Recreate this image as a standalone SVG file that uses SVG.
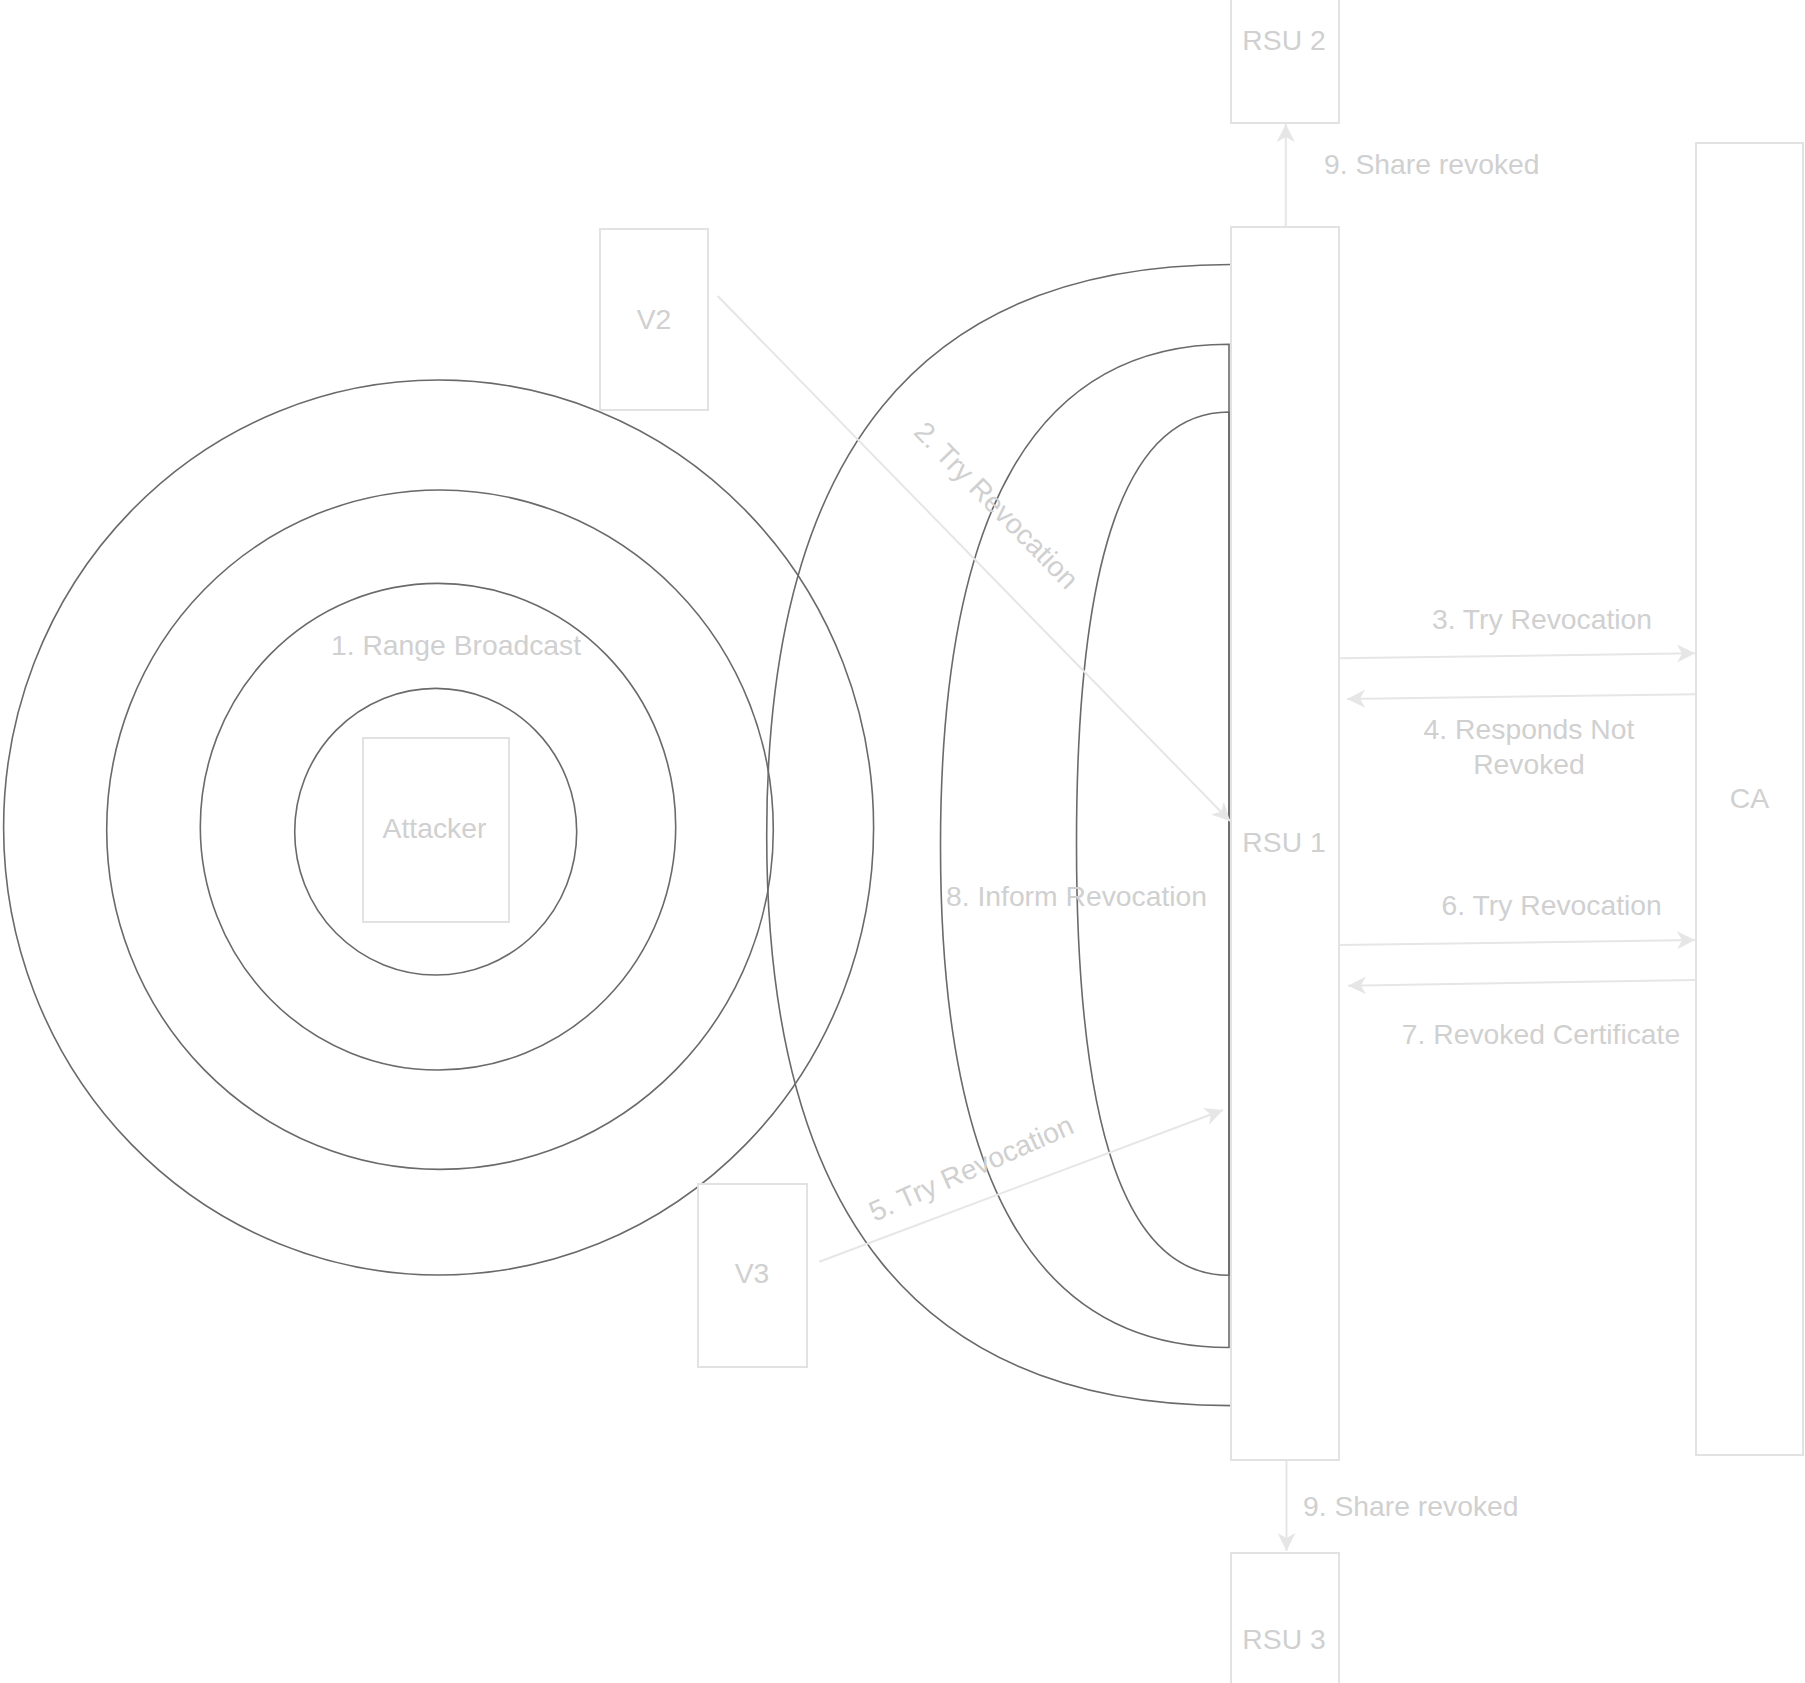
<svg xmlns="http://www.w3.org/2000/svg" width="1805" height="1683" viewBox="0 0 1805 1683">
  <style>
    .txt { font-family: "Liberation Sans", Arial, Helvetica, sans-serif; font-size: 28.3px; fill: #d0d0d0; }
    .mid { text-anchor: middle; }
    .box { fill: #ffffff; stroke: #e2e2e2; stroke-width: 2; }
    .ring { fill: none; stroke: #6a6a6a; stroke-width: 1.6; }
    .edge { fill: none; stroke: #e6e6e6; stroke-width: 2; marker-end: url(#arrow); }
  </style>
  <defs>
    <marker id="arrow" markerUnits="userSpaceOnUse" markerWidth="20" markerHeight="20" refX="18" refY="9" orient="auto">
      <path d="M0,0 L18,9 L0,18 L5,9 Z" fill="#e6e6e6"/>
    </marker>
  </defs>
  <rect width="1805" height="1683" fill="#ffffff"/>

  <g id="range-rings">
    <ellipse class="ring" cx="435.7" cy="831.7" rx="141" ry="143.3"/>
    <ellipse class="ring" cx="438" cy="826.7" rx="237.7" ry="243.3"/>
    <ellipse class="ring" cx="440" cy="829.7" rx="333.3" ry="339.7"/>
    <ellipse class="ring" cx="438.6" cy="827.5" rx="435" ry="447.5"/>
  </g>

  <g id="inform-arcs">
    <path class="ring" d="M1231,264.5 C920.1,264.5 766.7,452.8 766.7,835 C766.7,1217.2 920.1,1405.6 1231,1405.6"/>
    <path class="ring" d="M1229,1347.5 L1229,344.3 C1035.7,344.3 940.5,509.8 940.5,845.9 C940.5,1182 1035.7,1347.5 1229,1347.5 Z"/>
    <path class="ring" d="M1229,1275.3 L1229,412 C1126.8,412 1076.5,554.45 1076.5,843.65 C1076.5,1132.85 1126.8,1275.3 1229,1275.3 Z"/>
  </g>

  <g id="node-attacker">
    <rect class="box" x="363" y="738" width="146" height="184"/>
    <text class="txt mid" x="434.5" y="838">Attacker</text>
  </g>
  <g id="node-v2">
    <rect class="box" x="600" y="229" width="108" height="181"/>
    <text class="txt mid" x="654" y="329">V2</text>
  </g>
  <g id="node-v3">
    <rect class="box" x="698" y="1184" width="109" height="183"/>
    <text class="txt mid" x="752" y="1283">V3</text>
  </g>
  <g id="node-rsu1">
    <rect class="box" x="1231" y="227" width="108" height="1233"/>
    <text class="txt mid" x="1284" y="851.5">RSU 1</text>
  </g>
  <g id="node-rsu2">
    <rect class="box" x="1231" y="-47" width="108" height="170"/>
    <text class="txt mid" x="1284" y="50">RSU 2</text>
  </g>
  <g id="node-rsu3">
    <rect class="box" x="1231" y="1553" width="108" height="170"/>
    <text class="txt mid" x="1284" y="1649">RSU 3</text>
  </g>
  <g id="node-ca">
    <rect class="box" x="1696" y="143" width="107" height="1312"/>
    <text class="txt mid" x="1749.5" y="808">CA</text>
  </g>

  <g id="connectors">
    <line class="edge" x1="717.7" y1="296" x2="1230" y2="821"/>
    <line class="edge" x1="819.3" y1="1261.7" x2="1222.9" y2="1110"/>
    <line class="edge" x1="1339.3" y1="658.3" x2="1695" y2="653.3"/>
    <line class="edge" x1="1695" y1="694.3" x2="1347" y2="699"/>
    <line class="edge" x1="1339.3" y1="945" x2="1695" y2="940"/>
    <line class="edge" x1="1695" y1="980" x2="1348" y2="985.7"/>
    <line class="edge" x1="1285.8" y1="226" x2="1285.8" y2="124"/>
    <line class="edge" x1="1286.5" y1="1461" x2="1286.5" y2="1551"/>

    <text class="txt mid" x="456" y="654.5">1. Range Broadcast</text>
    <text class="txt mid" transform="rotate(45.6 996.7 505)" x="996.7" y="515">2. Try Revocation</text>
    <text class="txt mid" x="1542" y="629">3. Try Revocation</text>
    <text class="txt mid" x="1529" y="739.3">4. Responds Not</text>
    <text class="txt mid" x="1529" y="774.3">Revoked</text>
    <text class="txt mid" transform="rotate(-24 971 1168)" x="971" y="1178">5. Try Revocation</text>
    <text class="txt mid" x="1551.7" y="915">6. Try Revocation</text>
    <text class="txt mid" x="1541" y="1044.3">7. Revoked Certificate</text>
    <text class="txt mid" x="1076.5" y="906">8. Inform Revocation</text>
    <text class="txt" x="1324" y="174">9. Share revoked</text>
    <text class="txt" x="1303" y="1516">9. Share revoked</text>
  </g>
</svg>
